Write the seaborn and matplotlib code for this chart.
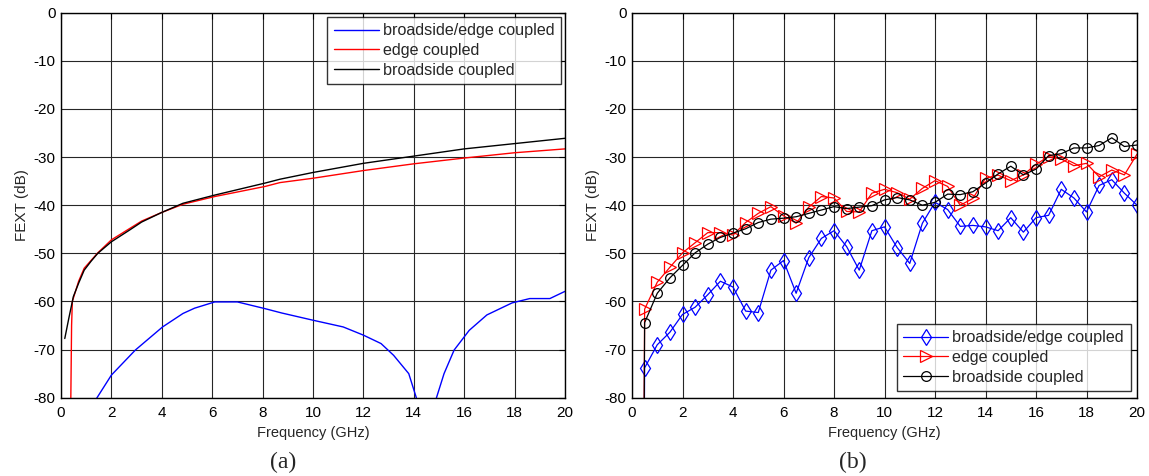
import numpy as np
import pandas as pd
import matplotlib
matplotlib.use("Agg")
import matplotlib.pyplot as plt
import seaborn as sns

# ---------------- data: panel (a) ----------------
fa_black = [0.15, 0.31, 0.49, 0.7, 0.92, 1.2, 1.46, 2.0, 2.74, 3.2, 4.0, 4.84, 6.1, 8.1, 8.69,
            10, 12, 14, 16, 18, 20]
va_black = [-67.7, -63.5, -59.0, -56.2, -53.5, -51.6, -50.0, -47.6, -45.1, -43.5, -41.5, -39.6,
            -37.9, -35.4, -34.6, -33.2, -31.3, -29.8, -28.3, -27.2, -26.1]

fa_red = [0.37, 0.42, 0.45, 0.7, 0.92, 1.46, 2.0, 3.2, 4.0, 4.84, 6.1, 8.1, 8.69,
          10, 12, 14, 16, 18, 20]
va_red = [-90, -65, -60, -55.8, -53.1, -49.9, -47.2, -43.3, -41.5, -39.8, -38.2, -36.1, -35.3,
          -34.4, -32.8, -31.4, -30.2, -29.1, -28.3]

fa_blue = [1.3, 1.43, 2.0, 2.95, 4.03, 4.84, 5.3, 6.1, 7.0, 8.1, 8.76, 10, 11.2, 12, 12.7,
           13.2, 13.8, 14.1, 14.5, 14.9, 15.2, 15.6, 16.2, 16.9, 17.9, 18.6, 19.4, 20]
va_blue = [-81, -80, -75.3, -70.1, -65.3, -62.5, -61.4, -60.1, -60.1, -61.5, -62.4, -63.9,
           -65.3, -67.0, -68.75, -71.2, -75.0, -80, -95, -80, -75, -70.1, -66, -62.8, -60.3,
           -59.4, -59.4, -57.9]

# ---------------- data: panel (b) ----------------
fb = [0.45, 0.5, 1.0, 1.5, 2.0, 2.5, 3.0, 3.5, 4.0, 4.5, 5.0, 5.5, 6.0, 6.5, 7.0, 7.5, 8.0, 8.5,
      9.0, 9.5, 10.0, 10.5, 11.0, 11.5, 12.0, 12.5, 13.0, 13.5, 14.0, 14.5, 15.0, 15.5,
      16.0, 16.5, 17.0, 17.5, 18.0, 18.5, 19.0, 19.5, 20.0]
vb_blue = [-120, -73.8, -69.0, -66.4, -62.7, -61.2, -58.6, -55.8, -57.0, -62.0, -62.3, -53.5,
           -51.5, -58.3, -50.9, -46.9, -45.3, -48.6, -53.5, -45.3, -44.5, -48.8, -52.1, -43.75,
           -39.4, -40.9, -44.4, -44.2, -44.5, -45.3, -42.6, -45.6, -42.6, -42.1, -36.7, -38.5,
           -41.4, -35.9, -34.7, -37.5, -40.0]
vb_red = [-120, -61.6, -56.0, -52.9, -49.9, -47.8, -45.7, -45.7, -46.2, -43.6, -41.7, -40.3,
          -42.2, -43.75, -40.4, -38.2, -38.5, -41.3, -41.4, -37.5, -36.7, -37.4, -38.75, -36.5,
          -34.9, -36.1, -40.0, -38.6, -34.4, -33.75, -34.9, -33.7, -31.5, -29.9, -30.4, -31.8,
          -31.3, -34.1, -32.7, -33.7, -29.4]
vb_black = [-120, -64.4, -58.3, -55.1, -52.5, -49.9, -48.1, -46.7, -45.8, -44.9, -43.6, -42.9,
            -42.7, -42.4, -41.7, -41.0, -40.3, -40.7, -40.4, -40.1, -38.9, -38.4, -38.9, -40.0,
            -39.4, -37.7, -37.8, -37.2, -35.4, -33.5, -31.9, -33.7, -32.5, -29.7, -29.3, -28.1,
            -28.1, -27.6, -26.0, -27.8, -27.5]

series_names = ["broadside/edge coupled", "edge coupled", "broadside coupled"]
xticks = list(range(0, 21, 2))
yticks = list(range(-80, 1, 10))

sns.set_style("white")
plt.rcParams['font.family'] = ['Liberation Sans', 'DejaVu Sans']
plt.rcParams['font.size'] = 11
plt.rcParams['axes.unicode_minus'] = False

fig = plt.figure(figsize=(11.49, 4.76), dpi=100)
axA = fig.add_axes([61/1149, 1-397.7/476, (565-61)/1149, (397.7-12.7)/476])
axB = fig.add_axes([632/1149, 1-397.7/476, (1137-632)/1149, (397.7-12.7)/476])

colors = ["#0000ff", "#ff0000", "#000000"]

# panel (a)
dfa = [(fa_blue, va_blue), (fa_red, va_red), (fa_black, va_black)]
for (f, v), c, name in zip(dfa, colors, series_names):
    sns.lineplot(x=f, y=v, ax=axA, color=c, lw=1.0, label=name, sort=False, estimator=None)

# panel (b)
markers = ["d", ">", "o"]
msizes = [8.5, 8, 7]
for v, c, m, ms, name in zip([vb_blue, vb_red, vb_black], colors, markers, msizes, series_names):
    sns.lineplot(x=fb, y=v, ax=axB, color=c, lw=0.9, marker=m, markersize=ms,
                 markerfacecolor='none', markeredgecolor=c, markeredgewidth=0.9,
                 label=name, sort=False, estimator=None)

for ax in (axA, axB):
    ax.set_xlim(0, 20)
    ax.set_ylim(-80, 0)
    ax.set_xticks(xticks)
    ax.set_yticks(yticks)
    ax.grid(True, color='0.15', lw=0.8)
    ax.tick_params(axis='both', direction='in', length=4, width=0.8, top=True, right=True,
                   labelsize=11, colors='black')
    ax.tick_params(axis='x', pad=6)
    ax.tick_params(axis='y', pad=4)
    for s in ax.spines.values():
        s.set_color('black')
        s.set_linewidth(1.0)
    ax.set_xlabel("Frequency (GHz)", fontsize=10.5, labelpad=4)
    ax.set_ylabel("FEXT (dB)", fontsize=11, labelpad=3)

legA = axA.legend(loc='upper right', fontsize=11.6, frameon=True, fancybox=False,
                  edgecolor='black', handlelength=2.8, handletextpad=0.25, borderpad=0.4,
                  labelspacing=0.3, borderaxespad=0.25)
legA.get_frame().set_linewidth(1.0)
legB = axB.legend(loc='lower right', fontsize=11.6, frameon=True, fancybox=False,
                  edgecolor='black', handlelength=2.8, handletextpad=0.25, borderpad=0.4,
                  labelspacing=0.3, borderaxespad=0.4, numpoints=1)
legB.get_frame().set_linewidth(1.0)

fig.text(283/1149, 1-462/476, "(a)", family=['Liberation Serif'], fontsize=17,
         ha='center', va='center')
fig.text(853/1149, 1-462/476, "(b)", family=['Liberation Serif'], fontsize=17,
         ha='center', va='center')

fig.savefig("out.png", dpi=100, facecolor='white')
